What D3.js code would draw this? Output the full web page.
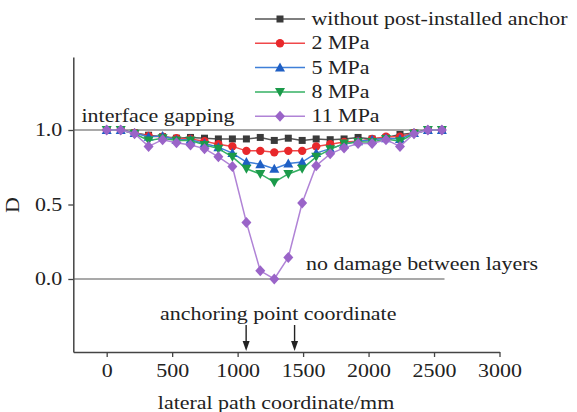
<!DOCTYPE html>
<html>
<head>
<meta charset="utf-8">
<script src="https://cdn.jsdelivr.net/npm/d3@7"></script>
<style>
  body { margin: 0; background: #fff; }
  svg text { font-family: "Liberation Serif", "Times New Roman", serif; fill: #222; }
</style>
</head>
<body>
<div id="chart"></div>
<script>
// lateral path coordinates (mm), 25 measuring points
const xCoords = d3.range(25).map(i => Math.round(i * 2560 / 24));

const seriesNames = ['without post-installed anchor', '2 MPa', '5 MPa', '8 MPa', '11 MPa'];

const noAnchor = [1, 1, 0.98, 0.965, 0.955, 0.945, 0.95, 0.945, 0.94, 0.94, 0.94, 0.95, 0.93,
  0.945, 0.93, 0.94, 0.935, 0.94, 0.95, 0.94, 0.95, 0.97, 0.98, 1, 1];
const mpa2 = [1, 1, 0.98, 0.96, 0.955, 0.945, 0.94, 0.925, 0.905, 0.89, 0.86, 0.86, 0.85,
  0.86, 0.86, 0.89, 0.905, 0.92, 0.925, 0.94, 0.955, 0.955, 0.98, 1, 1];
const mpa5 = [1, 1, 0.98, 0.955, 0.96, 0.935, 0.935, 0.91, 0.885, 0.845, 0.785, 0.77, 0.74,
  0.775, 0.785, 0.845, 0.875, 0.905, 0.925, 0.935, 0.945, 0.94, 0.98, 1, 1];
const mpa8 = [1, 1, 0.975, 0.93, 0.945, 0.93, 0.93, 0.9, 0.875, 0.82, 0.74, 0.705, 0.65,
  0.705, 0.74, 0.82, 0.87, 0.91, 0.92, 0.92, 0.94, 0.925, 0.975, 1, 1];
const mpa11 = [1, 1, 0.975, 0.89, 0.935, 0.915, 0.9, 0.875, 0.82, 0.755, 0.38, 0.055, 0.0,
  0.145, 0.51, 0.76, 0.84, 0.88, 0.91, 0.91, 0.935, 0.89, 0.975, 1, 1];

const xTicks = [0, 500, 1000, 1500, 2000, 2500, 3000];
const yTicks = [0, 0.5, 1.0];
const anchorPoints = [1065, 1435];

const lineColors = ['#555555', '#f0484a', '#3f7fd8', '#35b063', '#b083d6'];
const markColors = ['#3a3a3a', '#e8282b', '#1f5fc4', '#1b9a4a', '#9a64c8'];
const markShapes = ['square', 'circle', 'up', 'down', 'diamond'];

const series = [noAnchor, mpa2, mpa5, mpa8, mpa11].map((vals, k) => ({
  name: seriesNames[k],
  values: vals.map((v, i) => ({ x: xCoords[i], y: v }))
}));

const width = 577, height = 412;
const sx = 1.22; // reference text is stretched horizontally
const fs = 18;

const svg = d3.select('#chart').append('svg')
  .attr('width', width)
  .attr('height', height);

const x = d3.scaleLinear().domain([-255, 3000]).range([73.3, 499.5]);
const y = d3.scaleLinear().domain([-0.49, 1.49]).range([352, 57]);

function label(x0, y0, txt, anchor, rot) {
  return svg.append('text')
    .attr('transform', `translate(${x0},${y0})` + (rot ? ` rotate(${rot})` : '') + ` scale(${sx},1)`)
    .attr('text-anchor', anchor || 'start')
    .style('font-size', fs + 'px')
    .text(txt);
}

// axes
const xAxis = d3.axisBottom(x).tickValues(xTicks).tickSize(5).tickSizeOuter(0).tickPadding(7)
  .tickFormat(d3.format('d'));
const yAxis = d3.axisLeft(y).tickValues(yTicks).tickSize(5).tickSizeOuter(0).tickPadding(4)
  .tickFormat(d3.format('.1f'));

const xAxisG = svg.append('g')
  .attr('transform', `translate(0,${y(-0.49)})`)
  .call(xAxis);
const yAxisG = svg.append('g')
  .attr('transform', `translate(${x(-255)},0)`)
  .call(yAxis);

[xAxisG, yAxisG].forEach(g => {
  g.select('.domain').attr('stroke', '#444').attr('stroke-width', 1.5);
  g.selectAll('.tick line').attr('stroke', '#444').attr('stroke-width', 1.3);
  g.selectAll('.tick text')
    .attr('fill', '#222')
    .style('font-size', fs + 'px')
    .style('font-family', '"Liberation Serif", serif');
});
xAxisG.selectAll('.tick text').attr('transform', `scale(${sx},1)`).attr('dy', '0.71em');
yAxisG.selectAll('.tick text').attr('transform', `scale(${sx},1)`).attr('x', -9);

// reference lines at D = 1 and D = 0
[0, 1].forEach(v => {
  svg.append('line')
    .attr('x1', x(-255)).attr('x2', x(2580))
    .attr('y1', y(v)).attr('y2', y(v))
    .attr('stroke', '#555').attr('stroke-width', 1.2);
});

// lines
const line = d3.line().x(d => x(d.x)).y(d => y(d.y));

function drawMarker(g, shape, color) {
  if (shape === 'square') {
    g.append('rect').attr('x', -3.5).attr('y', -3.5).attr('width', 7).attr('height', 7).attr('fill', color);
  } else if (shape === 'circle') {
    g.append('circle').attr('r', 4.2).attr('fill', color);
  } else if (shape === 'up') {
    g.append('path').attr('d', 'M0,-5L5,4L-5,4Z').attr('fill', color);
  } else if (shape === 'down') {
    g.append('path').attr('d', 'M0,5L5,-4L-5,-4Z').attr('fill', color);
  } else {
    g.append('path').attr('d', 'M0,-5.5L5,0L0,5.5L-5,0Z').attr('fill', color);
  }
}

series.forEach((s, k) => {
  svg.append('path')
    .datum(s.values)
    .attr('fill', 'none')
    .attr('stroke', lineColors[k])
    .attr('stroke-width', 1.5)
    .attr('d', line);
  s.values.forEach(d => {
    const g = svg.append('g').attr('transform', `translate(${x(d.x)},${y(d.y)})`);
    drawMarker(g, markShapes[k], markColors[k]);
  });
});

// legend
series.forEach((s, k) => {
  const ly = 19 + k * 24.3;
  svg.append('line')
    .attr('x1', 255).attr('x2', 305)
    .attr('y1', ly).attr('y2', ly)
    .attr('stroke', lineColors[k]).attr('stroke-width', 1.5);
  const g = svg.append('g').attr('transform', `translate(280,${ly})`);
  drawMarker(g, markShapes[k], markColors[k]);
  label(311.5, ly + 6, s.name);
});

// annotations
label(81.5, 121.5, 'interface gapping');
label(306, 270, 'no damage between layers');
label(160, 320, 'anchoring point coordinate');

anchorPoints.forEach(a => {
  const ax = x(a), top = 325, bot = y(-0.49) - 1;
  svg.append('line')
    .attr('x1', ax).attr('x2', ax)
    .attr('y1', top).attr('y2', bot - 8)
    .attr('stroke', '#222').attr('stroke-width', 1.4);
  svg.append('path')
    .attr('d', `M${ax - 3.5},${bot - 10}L${ax + 3.5},${bot - 10}L${ax},${bot}Z`)
    .attr('fill', '#222');
});

// axis titles
label(276, 409, 'lateral path coordinate/mm', 'middle');
label(18.5, 205, 'D', 'middle', -90);
</script>
</body>
</html>
